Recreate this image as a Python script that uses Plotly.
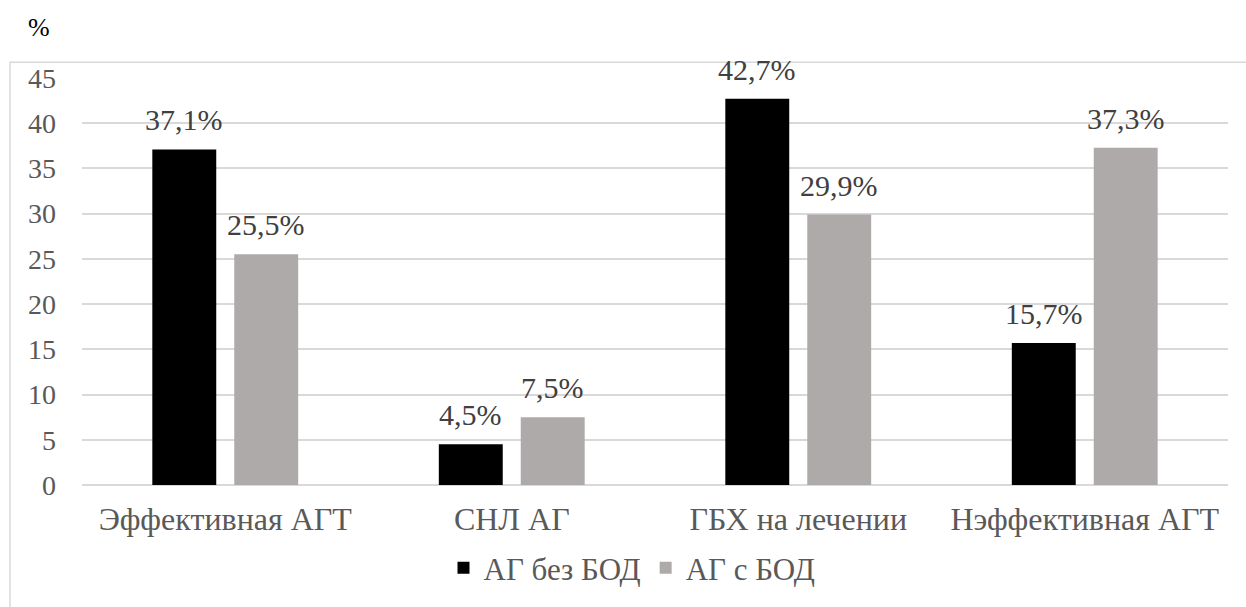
import plotly.graph_objects as go

categories = ["Эффективная АГТ", "СНЛ АГ", "ГБХ на лечении", "Нэффективная АГТ"]
series_names = ["АГ без БОД", "АГ с БОД"]
values_no_bod = [37.1, 4.5, 42.7, 15.7]
values_bod = [25.5, 7.5, 29.9, 37.3]
y_ticks = [0, 5, 10, 15, 20, 25, 30, 35, 40, 45]

FONT = "Times New Roman"
colors = ["#000000", "#AEAAAA"]
bar_offsets_px = [-41, 41]   # horizontal centre of each bar within its group

def fmt(v):
    return f"{v:.1f}".replace(".", ",") + "%"

fig = go.Figure()
for name, vals, col in zip(series_names, [values_no_bod, values_bod], colors):
    fig.add_trace(go.Bar(
        x=categories, y=vals, name=name,
        marker=dict(color=col, line=dict(width=0)),
        cliponaxis=False,
    ))

W, H = 1246, 607
ml, mr, mt, mb = 82, 18, 78, 118
pw, ph = W - ml - mr, H - mt - mb

def px_x(x):
    return (x - ml) / pw

def px_y(y):
    return (H - mb - y) / ph

# value labels above each bar
annotations = []
for vals, dx in zip([values_no_bod, values_bod], bar_offsets_px):
    for cat, v in zip(categories, vals):
        annotations.append(dict(
            x=cat, y=v, xref="x", yref="y", text=fmt(v), showarrow=False,
            xanchor="center", yanchor="bottom", xshift=dx, yshift=11,
            font=dict(family=FONT, size=30, color="#404040")))

annotations.append(dict(text="%", xref="paper", yref="paper",
                        x=px_x(26), y=px_y(27), xanchor="left", yanchor="middle",
                        showarrow=False,
                        font=dict(family=FONT, size=26, color="#000000")))

fig.update_layout(
    width=W, height=H,
    margin=dict(l=ml, r=mr, t=mt, b=mb),
    paper_bgcolor="white", plot_bgcolor="white",
    barmode="group", bargap=0.428, bargroupgap=0.22,
    font=dict(family=FONT, color="#595959"),
    showlegend=True,
    legend=dict(orientation="h", x=px_x(632), xanchor="center",
                y=px_y(573), yanchor="middle", bgcolor="rgba(0,0,0,0)",
                font=dict(family=FONT, size=31, color="#595959"),
                itemwidth=30, traceorder="normal"),
    xaxis=dict(showgrid=False, showline=False, ticks="",
               tickfont=dict(family=FONT, size=32, color="#595959"),
               ticklabelstandoff=12),
    yaxis=dict(range=[0, 45], tickvals=y_ticks, showgrid=True,
               gridcolor="#D9D9D9", gridwidth=1.5, zeroline=True,
               zerolinecolor="#D9D9D9", zerolinewidth=1.5, showline=False,
               tickfont=dict(family=FONT, size=28, color="#595959"),
               ticklabelstandoff=25),
    shapes=[dict(type="rect", xref="paper", yref="paper",
                 x0=px_x(10), x1=px_x(1252), y0=px_y(660), y1=px_y(62),
                 line=dict(color="#D9D9D9", width=1.5), layer="below")],
    annotations=annotations,
)

fig.write_html("out.html")
